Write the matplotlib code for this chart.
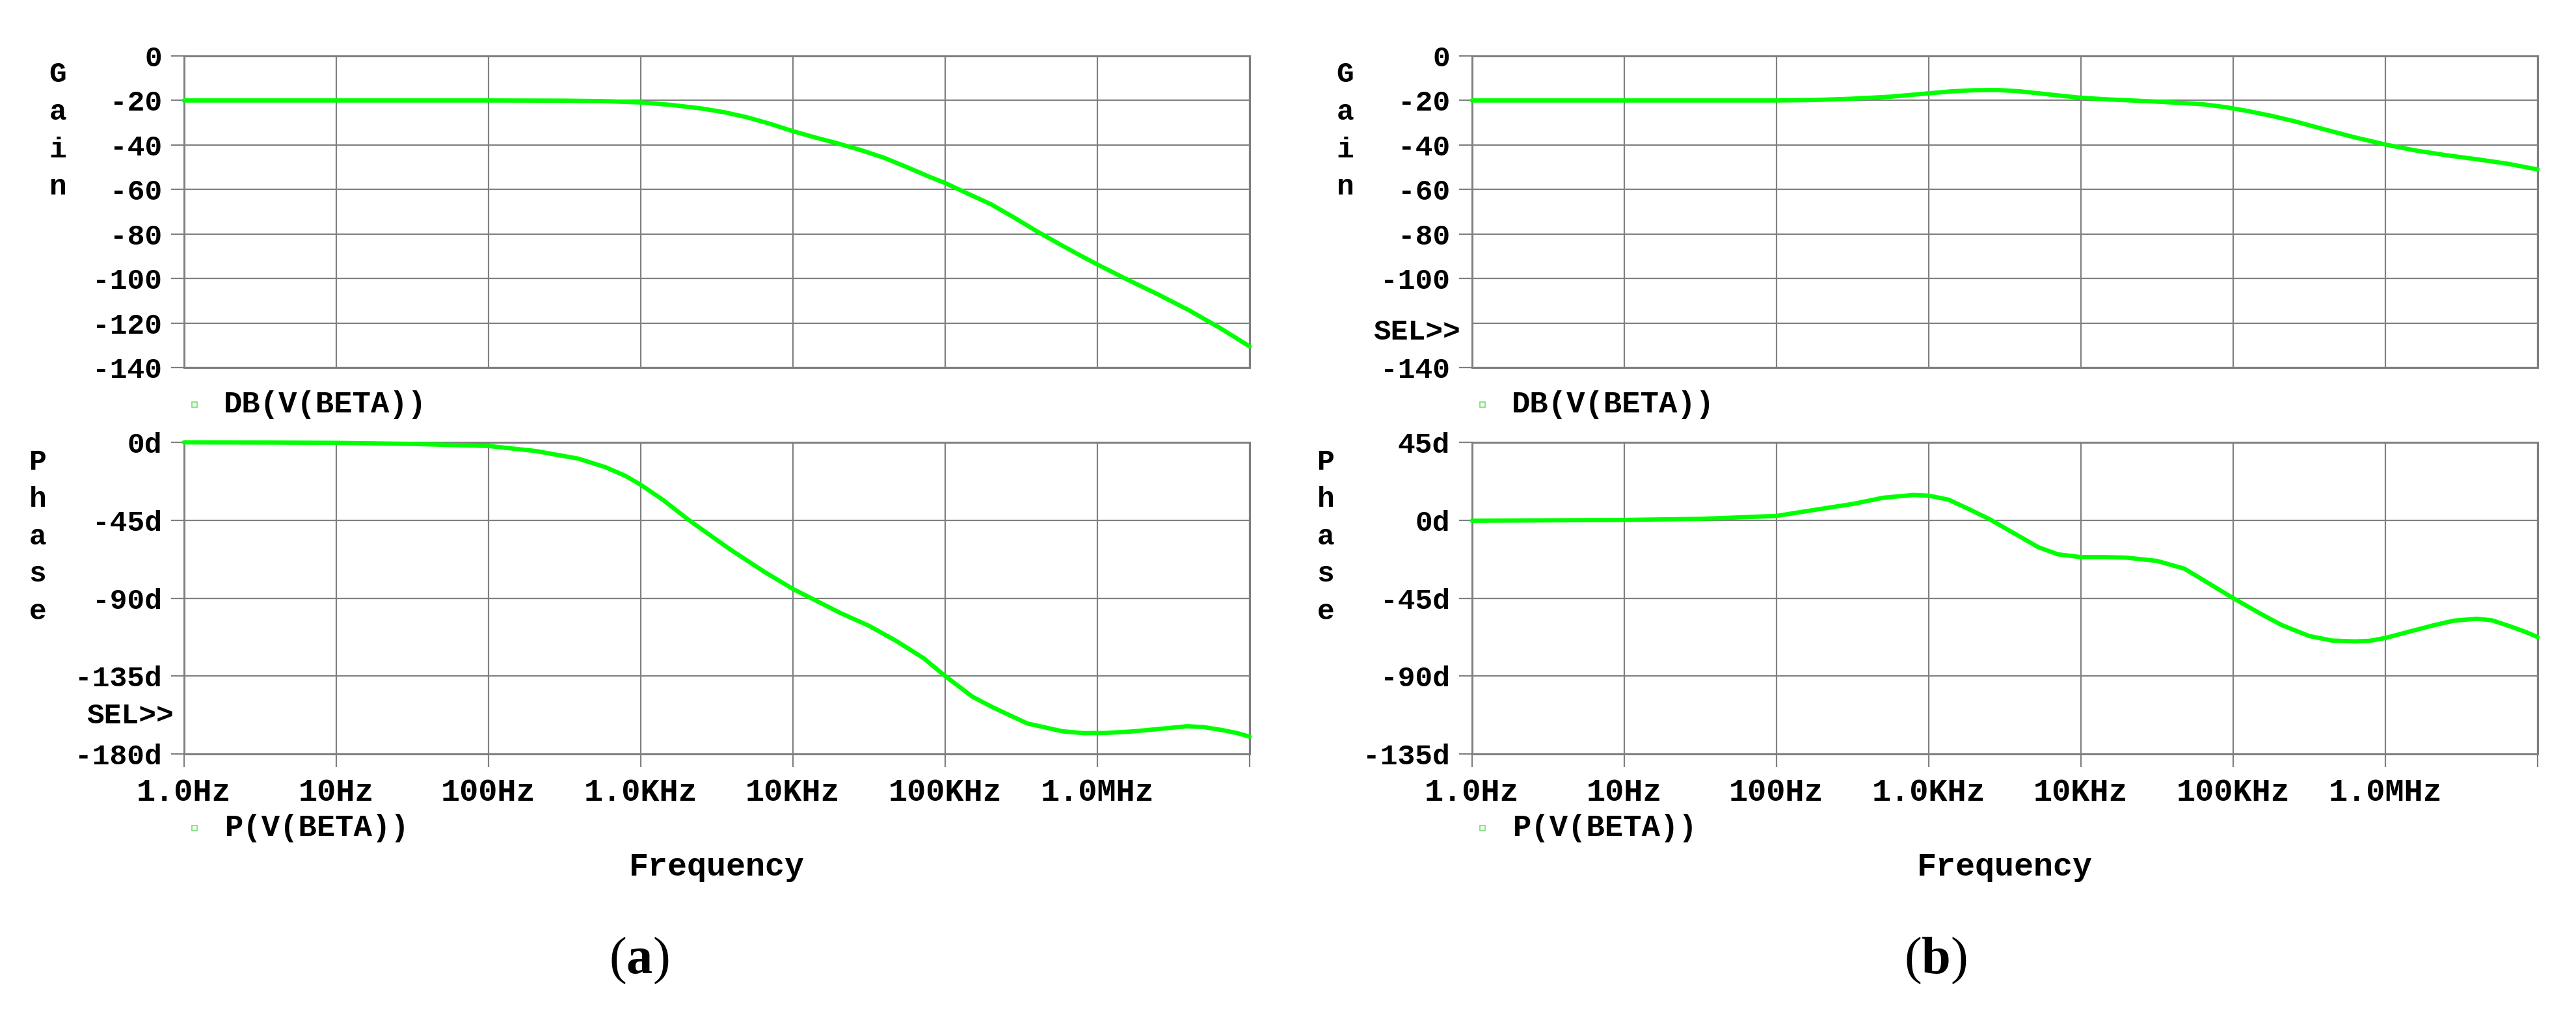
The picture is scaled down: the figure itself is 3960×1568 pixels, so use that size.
import matplotlib.pyplot as plt
from matplotlib.lines import Line2D
from matplotlib.transforms import blended_transform_factory
import numpy as np

plt.rcParams['mathtext.fontset'] = 'custom'
plt.rcParams['mathtext.rm'] = 'Liberation Serif'
plt.rcParams['mathtext.bf'] = 'Liberation Serif:bold'

# Frequency axis (decades, 1 Hz .. 10 MHz)
freq_ticks = [1, 10, 100, 1e3, 1e4, 1e5, 1e6]
freq_labels = ['1.0Hz', '10Hz', '100Hz', '1.0KHz', '10KHz', '100KHz', '1.0MHz']

# (a) gain, log10(f) vs dB
gain_a_logf = [0, 1, 2, 2.5, 2.75, 3.0, 3.2, 3.4, 3.55, 3.7, 3.85, 4.0, 4.15, 4.3,
               4.45, 4.6, 4.75, 4.9, 5.0, 5.15, 5.3, 5.45, 5.6, 5.75, 5.9, 6.0,
               6.2, 6.4, 6.6, 6.8, 7.0]
gain_a_db = [-20, -20, -20, -20.1, -20.3, -20.9, -22.0, -23.6, -25.3, -27.6, -30.5,
             -33.8, -36.7, -39.4, -42.4, -45.8, -50.0, -54.4, -57.1, -61.9, -66.6,
             -72.5, -78.7, -84.5, -90.1, -93.7, -100.6, -107.2, -114.2, -122.0, -130.5]

# (a) phase, log10(f) vs degrees
phase_a_logf = [0, 0.5, 1.0, 1.5, 2.0, 2.31, 2.59, 2.77, 2.9, 3.0, 3.15, 3.31, 3.45,
                3.59, 3.81, 4.0, 4.31, 4.5, 4.68, 4.86, 5.0, 5.18, 5.32, 5.54, 5.77,
                5.91, 6.05, 6.23, 6.4, 6.59, 6.7, 6.82, 6.92, 7.0]
phase_a_deg = [0, -0.1, -0.3, -0.9, -2.1, -5.0, -9.4, -14.4, -19.4, -24.5, -33.5,
               -44.5, -53.3, -62.0, -74.7, -84.7, -98.5, -106.0, -114.8, -124.8,
               -135.0, -147.0, -153.4, -162.4, -166.9, -168.0, -167.9, -167.0,
               -165.6, -164.0, -164.5, -166.2, -168.0, -170.0]

# (b) gain
gain_b_logf = [0, 1, 2, 2.25, 2.5, 2.75, 2.9, 3.0, 3.15, 3.3, 3.45, 3.6, 3.75, 3.9,
               4.0, 4.2, 4.4, 4.6, 4.8, 4.95, 5.1, 5.25, 5.4, 5.6, 5.8, 6.0, 6.2,
               6.4, 6.6, 6.8, 7.0]
gain_b_db = [-20, -20, -20, -19.8, -19.2, -18.3, -17.4, -16.8, -15.9, -15.4, -15.3,
             -15.9, -17.0, -18.1, -18.8, -19.6, -20.2, -20.9, -21.7, -23.0, -24.8,
             -26.9, -29.3, -33.0, -36.6, -39.8, -42.5, -44.6, -46.4, -48.4, -51.0]

# (b) phase
phase_b_logf = [0, 1, 1.5, 2.0, 2.2, 2.5, 2.7, 2.9, 3.0, 3.13, 3.25, 3.4, 3.5, 3.6,
                3.72, 3.85, 4.0, 4.15, 4.3, 4.5, 4.68, 4.85, 5.0, 5.18, 5.32, 5.5,
                5.65, 5.8, 5.9, 6.0, 6.15, 6.32, 6.45, 6.6, 6.7, 6.82, 6.92, 7.0]
phase_b_deg = [-0.3, 0.2, 0.8, 2.5, 5.3, 9.4, 13.0, 14.6, 14.2, 11.9, 7.0, 0.6, -4.5,
               -9.5, -15.6, -19.7, -21.3, -21.3, -21.6, -23.5, -28.0, -37.0, -45.0,
               -54.0, -60.6, -66.9, -69.5, -70.0, -69.6, -68.0, -64.5, -60.6, -58.0,
               -56.9, -57.8, -61.3, -64.5, -67.5]

gain_ticks = [0, -20, -40, -60, -80, -100, -120, -140]
phase_a_ticks = [0, -45, -90, -135, -180]
phase_b_ticks = [45, 0, -45, -90, -135]

GREEN = '#00ff00'
GRID = '#808080'
MONO = 'Liberation Mono'
WEIGHT = 'bold'
W, H = 3960, 1568

fig = plt.figure(figsize=(W / 100, H / 100), dpi=100)


def fx(px):
    return px / W


def fy(py):
    return 1 - py / H


def make_axes(left_px, top_px, bottom_px, width_px=1638):
    ax = fig.add_axes([fx(left_px), fy(bottom_px), width_px / W, (bottom_px - top_px) / H])
    ax.set_xscale('log')
    ax.set_xlim(1, 1e7)
    ax.set_xticks([1, 10, 100, 1e3, 1e4, 1e5, 1e6, 1e7])
    ax.minorticks_off()
    ax.grid(True, color=GRID, linewidth=1.6)
    for s in ax.spines.values():
        s.set_color(GRID)
        s.set_linewidth(2.2)
    ax.tick_params(axis='y', length=14.4, width=1.6, color=GRID, pad=10,
                   labelsize=32, labelcolor='black')
    return ax


def style_yticks(ax, ticks, labels):
    ax.set_yticks(ticks)
    ax.set_yticklabels(labels, family=MONO, fontsize=32, weight=WEIGHT)


def vertical_label(x_px, y0_px, text, step=57.5):
    for i, ch in enumerate(text):
        fig.text(fx(x_px), fy(y0_px + i * step), ch, family=MONO, fontsize=32,
                 weight=WEIGHT, ha='center', va='center')


def legend_entry(x_marker, x_text, y_px, text):
    fig.add_artist(Line2D([fx(x_marker)], [fy(y_px)], transform=fig.transFigure,
                          marker='s', markersize=6, mfc='none', mec='#70e070', mew=1.2,
                          linestyle='none'))
    fig.text(fx(x_text), fy(y_px), text, family=MONO, fontsize=34, weight=WEIGHT,
             ha='left', va='center')


panels = [
    (283, gain_a_logf, gain_a_db, phase_a_logf, phase_a_deg, phase_a_ticks, 89, 58),
    (2263, gain_b_logf, gain_b_db, phase_b_logf, phase_b_deg, phase_b_ticks, 2068, 2038),
]

for k, (left, glf, gdb, plf, pdeg, pticks, gx, px_) in enumerate(panels):
    # gain axes
    axg = make_axes(left, 86, 565)
    axg.plot(10 ** np.array(glf), gdb, color=GREEN, linewidth=4.8, solid_joinstyle='round',
             solid_capstyle='round', clip_on=False, zorder=5)
    axg.set_ylim(-140, 0)
    glabels = [str(t) for t in gain_ticks]
    if k == 1:
        glabels[gain_ticks.index(-120)] = ''
    style_yticks(axg, gain_ticks, glabels)
    axg.tick_params(axis='x', length=0, labelbottom=False)
    if k == 1:
        axg.yaxis.get_major_ticks()[gain_ticks.index(-120)].tick1line.set_visible(False)
        tr = blended_transform_factory(axg.transAxes, axg.transData)
        axg.text(-0.011, -124, 'SEL>>', transform=tr, family=MONO, fontsize=32,
                 weight=WEIGHT, ha='right', va='center')

    # phase axes
    axp = make_axes(left, 680, 1159)
    axp.plot(10 ** np.array(plf), pdeg, color=GREEN, linewidth=4.8, solid_joinstyle='round',
             solid_capstyle='round', clip_on=False, zorder=5)
    axp.set_ylim(min(pticks), max(pticks))
    style_yticks(axp, pticks, ['%dd' % t for t in pticks])
    axp.set_xticklabels(freq_labels + [''], family=MONO, fontsize=35, weight=WEIGHT)
    axp.tick_params(axis='x', length=14.4, width=1.6, color=GRID, pad=12,
                    labelcolor='black')
    if k == 0:
        tr = blended_transform_factory(axp.transAxes, axp.transData)
        axp.text(-0.010, -158, 'SEL>>', transform=tr, family=MONO, fontsize=32,
                 weight=WEIGHT, ha='right', va='center')

    vertical_label(gx, 115, 'Gain')
    vertical_label(px_, 710, 'Phase')

    legend_entry(left + 16, left + 61, 622, 'DB(V(BETA))')
    legend_entry(left + 16, left + 63, 1273, 'P(V(BETA))')
    fig.text(fx(left + 819), fy(1333), 'Frequency', family=MONO, fontsize=36,
             weight=WEIGHT, ha='center', va='center')

fig.text(fx(982), fy(1477), r'($\mathbf{a}$)', family='Liberation Serif', fontsize=58,
         ha='center', va='center')
fig.text(fx(2975), fy(1477), r'($\mathbf{b}$)', family='Liberation Serif', fontsize=58,
         ha='center', va='center')

fig.savefig('out.png', dpi=100, facecolor='white')
